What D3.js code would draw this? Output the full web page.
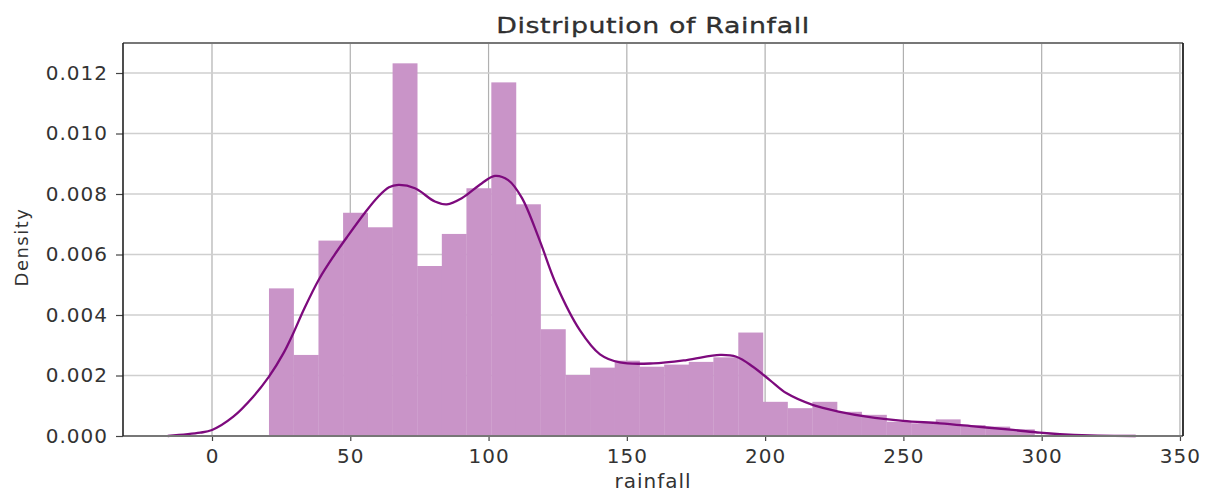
<!DOCTYPE html>
<html>
<head>
<meta charset="utf-8">
<script src="https://cdn.jsdelivr.net/npm/d3@7"></script>
<style>
  body { margin: 0; background: #fff; }
  svg text { font-family: "DejaVu Sans", sans-serif; fill: #333; }
</style>
</head>
<body>
<svg id="grafico"></svg>
<script>
// bordas das barras do histograma (rainfall)
const binEdges = [20.6, 29.5, 38.5, 47.4, 56.3, 65.3, 74.2, 83.1, 92.0, 101.0, 109.9,
  118.8, 127.8, 136.7, 145.6, 154.6, 163.5, 172.4, 181.3, 190.3, 199.2,
  208.1, 217.1, 226.0, 234.9, 243.9, 252.8, 261.7, 270.6, 279.6, 288.5, 297.4]
const binDensity = [0.00488, 0.00268, 0.00646, 0.00738, 0.0069, 0.01232, 0.00562, 0.00668,
  0.00819, 0.01169, 0.00766, 0.00353, 0.00202, 0.00226, 0.00249, 0.00229, 0.00236,
  0.00245, 0.0026, 0.00342, 0.00113, 0.00092, 0.00113, 0.0008, 0.0007, 0.00047,
  0.00042, 0.00055, 0.00036, 0.00031, 0.00022]

// curva kde
const kdeX = [-16, -4.3, 0, 7.7, 14.9, 20.6, 25.8, 29.4, 33.3, 38.8, 44, 49, 55.3, 60, 64, 67.4,
  73.4, 80.6, 84.9, 90.3, 97.5, 102.3, 107.1, 112, 118.3, 124.5, 133, 140.3, 147.5, 159.5,
  171.6, 183.7, 189.6, 195.6, 201.7, 207.8, 217.4, 227, 236.7, 249.9, 263.2, 276.4, 289.7,
  299.3, 306.6, 317.4, 334]
const kdeY = [0, 0.00011, 0.0002, 0.00064, 0.0013, 0.00196, 0.00273, 0.0034, 0.0042, 0.0052,
  0.00595, 0.0066, 0.00738, 0.0079, 0.00822, 0.0083, 0.00819, 0.00775, 0.00766, 0.00786, 0.00835,
  0.0086, 0.00846, 0.00788, 0.00651, 0.005, 0.0035, 0.0027, 0.00243, 0.0024, 0.00251,
  0.00268, 0.00262, 0.00229, 0.00185, 0.00141, 0.00102, 0.0008, 0.00064, 0.0005, 0.00042,
  0.00031, 0.0002, 0.00011, 0.00006, 0.00002, 0]

const xTicks = [0, 50, 100, 150, 200, 250, 300, 350]
const yTicks = [0, 0.002, 0.004, 0.006, 0.008, 0.010, 0.012]

const largura = 1211, altura = 495
const margens = { esquerda: 123, direita: 28, superior: 43, inferior: 59 }
const w = largura - margens.esquerda - margens.direita
const h = altura - margens.superior - margens.inferior

const svg = d3.select('#grafico').attr('width', largura).attr('height', altura)
const g = svg.append('g').attr('transform', `translate(${margens.esquerda},${margens.superior})`)

const fnX = d3.scaleLinear().domain([-32.18, 351.1]).range([0, w])
const fnY = d3.scaleLinear().domain([0, 0.012992]).range([h, 0])

// grade
g.append('g').selectAll('line').data(xTicks).join('line')
  .attr('x1', d => fnX(d)).attr('x2', d => fnX(d)).attr('y1', 0).attr('y2', h)
  .attr('stroke', '#b0b0b0').attr('stroke-width', 1.2)
g.append('g').selectAll('line').data(yTicks).join('line')
  .attr('x1', 0).attr('x2', w).attr('y1', d => fnY(d)).attr('y2', d => fnY(d))
  .attr('stroke', '#cfcfcf').attr('stroke-width', 1.6)

// barras
g.append('g').selectAll('rect').data(binDensity).join('rect')
  .attr('x', (d, i) => fnX(binEdges[i]))
  .attr('width', (d, i) => fnX(binEdges[i + 1]) - fnX(binEdges[i]) + 0.3)
  .attr('y', d => fnY(d))
  .attr('height', d => h - fnY(d))
  .attr('fill', '#c994c8')

// kde
const linha = d3.line().x((d, i) => fnX(kdeX[i])).y(d => fnY(d)).curve(d3.curveCatmullRom)
g.append('path').datum(kdeY).attr('d', linha)
  .attr('fill', 'none').attr('stroke', '#7d0a7d').attr('stroke-width', 2.3)

// eixos
const eixoX = d3.axisBottom(fnX).tickValues(xTicks).tickSize(5).tickPadding(8).tickFormat(d3.format('d'))
const gx = g.append('g').attr('transform', `translate(0,${h})`).call(eixoX)
const eixoY = d3.axisLeft(fnY).tickValues(yTicks).tickSize(7).tickPadding(8).tickFormat(d3.format('.3f'))
const gy = g.append('g').call(eixoY)
;[gx, gy].forEach(e => {
  e.select('.domain').remove()
  e.selectAll('.tick line').attr('stroke', '#444').attr('stroke-width', 1.2)
  e.selectAll('.tick text').attr('font-size', 20).attr('letter-spacing', 1)
    .attr('font-family', '"DejaVu Sans", sans-serif').attr('fill', '#333')
})

// moldura
g.append('line').attr('x1', 0).attr('x2', w).attr('y1', 0).attr('y2', 0).attr('stroke', '#777').attr('stroke-width', 2)
g.append('line').attr('x1', 0).attr('x2', w).attr('y1', h).attr('y2', h).attr('stroke', '#777').attr('stroke-width', 2)
g.append('line').attr('x1', 0).attr('x2', 0).attr('y1', 0).attr('y2', h).attr('stroke', '#222').attr('stroke-width', 1.6)
g.append('line').attr('x1', w).attr('x2', w).attr('y1', 0).attr('y2', h).attr('stroke', '#222').attr('stroke-width', 1.8)

// titulos
svg.append('text')
  .attr('transform', `translate(${margens.esquerda + w / 2},33) scale(1.22,1)`)
  .attr('text-anchor', 'middle').attr('font-size', 22).attr('letter-spacing', 0.5)
  .attr('fill', '#1a1a1a').attr('stroke', '#1a1a1a').attr('stroke-width', 0.3)
  .text('Distripution of Rainfall')
svg.append('text').attr('x', margens.esquerda + w / 2).attr('y', 488)
  .attr('text-anchor', 'middle').attr('font-size', 20).attr('letter-spacing', 1)
  .text('rainfall')
svg.append('text').attr('transform', 'translate(28,247) rotate(-90)')
  .attr('text-anchor', 'middle').attr('font-size', 18).attr('letter-spacing', 1.5)
  .text('Density')
</script>
</body>
</html>
